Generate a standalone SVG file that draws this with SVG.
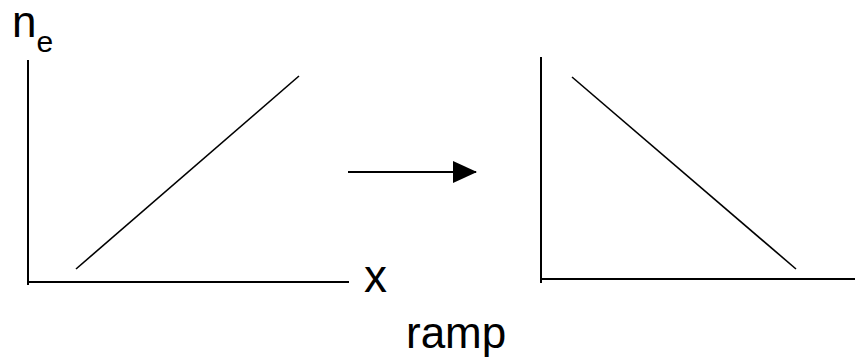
<svg xmlns="http://www.w3.org/2000/svg" width="855" height="358" viewBox="0 0 855 358">
<style>
.t{font-family:"Liberation Sans",Arial,sans-serif;fill:#000}
.ax{stroke:#000;stroke-width:2;fill:none}
.ln{stroke:#000;stroke-width:1.6;fill:none}
</style>
<defs>
<marker id="ah" markerWidth="24" markerHeight="22" refX="23" refY="11" orient="auto" markerUnits="userSpaceOnUse">
<path d="M0,0 L24,11 L0,22 Z" fill="#000"/>
</marker>
</defs>
<rect width="855" height="358" fill="#fff"/>
<g id="left-plot">
<line class="ax" x1="28" y1="60" x2="28" y2="285"/>
<line class="ax" x1="27" y1="282" x2="349" y2="282"/>
<line class="ln" x1="76" y1="269" x2="299" y2="76"/>
<text class="t" x="12" y="37" font-size="44">n<tspan font-size="30" dy="15">e</tspan></text>
<text class="t" x="364" y="292" font-size="46">x</text>
</g>
<g id="right-plot">
<line class="ax" x1="541" y1="57" x2="541" y2="283"/>
<line class="ax" x1="540" y1="279" x2="855" y2="279"/>
<line class="ln" x1="572" y1="77" x2="796" y2="269"/>
</g>
<g id="connectors">
<line class="ax" x1="348" y1="172" x2="476" y2="172" marker-end="url(#ah)"/>
</g>
<text class="t" x="406" y="348" font-size="44">ramp</text>
</svg>
